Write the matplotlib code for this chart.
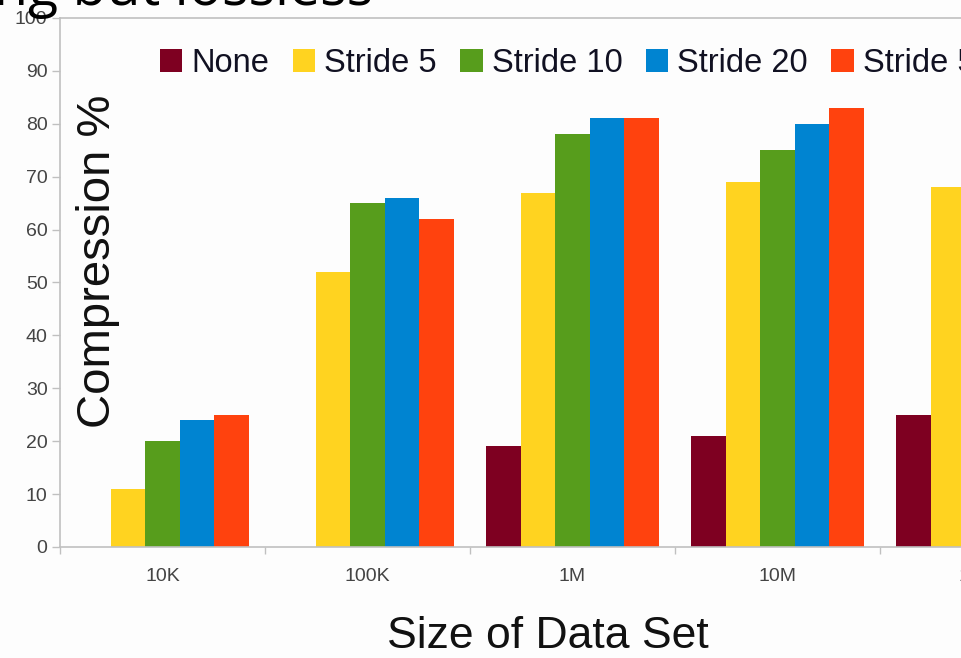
import matplotlib.pyplot as plt
import numpy as np

plt.rcParams['font.family'] = ['Liberation Sans', 'DejaVu Sans']

# data (last group is mostly cut off in the screenshot)
sizes = ["10K", "100K", "1M", "10M", "100M"]
series = ["None", "Stride 5", "Stride 10", "Stride 20", "Stride 50"]
none_vals = [0, 0, 19, 21, 25]
stride5 = [11, 52, 67, 69, 68]
stride10 = [20, 65, 78, 75, 75]
stride20 = [24, 66, 81, 80, 80]
stride50 = [25, 62, 81, 83, 82]
colors = ["#7e0021", "#ffd320", "#579d1c", "#0084d1", "#ff420e"]

fig = plt.figure(figsize=(9.62, 6.58), dpi=100)
fig.patch.set_facecolor("#fdfdfd")
# axes deliberately runs past the right edge (screenshot is cropped)
ax = fig.add_axes([0.0624, 0.1687, 1.0655, 0.804])
ax.set_facecolor("#fdfdfd")

x = np.arange(len(sizes))
w = 0.168
all_vals = [none_vals, stride5, stride10, stride20, stride50]
for i, (name, vals, c) in enumerate(zip(series, all_vals, colors)):
    ax.bar(x + (i - 2) * w, vals, w, color=c, label=name)

ax.set_xlim(-0.5, len(sizes) - 0.5)
ax.set_ylim(0, 100)
ax.set_yticks(range(0, 101, 10))
ax.set_xticks(x)
ax.set_xticklabels(sizes)
ax.set_xticks(np.arange(-0.5, len(sizes), 1), minor=True)

for s in ["left", "top", "bottom", "right"]:
    ax.spines[s].set_color("#c0c0c0")
    ax.spines[s].set_linewidth(1.2)

ax.tick_params(axis="y", length=6, width=1, color="#c0c0c0", pad=3,
               labelsize=14, labelcolor="#444444")
ax.tick_params(axis="x", which="major", length=0, pad=15,
               labelsize=14, labelcolor="#444444")
ax.tick_params(axis="x", which="minor", length=5, width=1, color="#c0c0c0")

ax.text(0.037, 0.54, "Compression %", rotation=90, ha="center", va="center",
        fontsize=34, color="#111111", transform=ax.transAxes)
fig.text(548 / 962, 1 - 637 / 658, "Size of Data Set", ha="center", va="center",
         fontsize=32, color="#111111")

ax.legend(loc="center left", bbox_to_anchor=(0.085, 0.914), ncol=5, frameon=False,
          fontsize=23.5, handlelength=0.68, handleheight=0.68, handletextpad=0.28,
          columnspacing=0.72, borderaxespad=0, labelcolor="#111122")

# leftover of the slide title, cut by the crop
fig.text(-0.006, 1 - 5 / 658, "ng but lossless", fontsize=40, va="baseline",
         ha="left", family=["Open Sans", "DejaVu Sans"], color="black")

fig.savefig("out.png", dpi=100, facecolor=fig.get_facecolor())
